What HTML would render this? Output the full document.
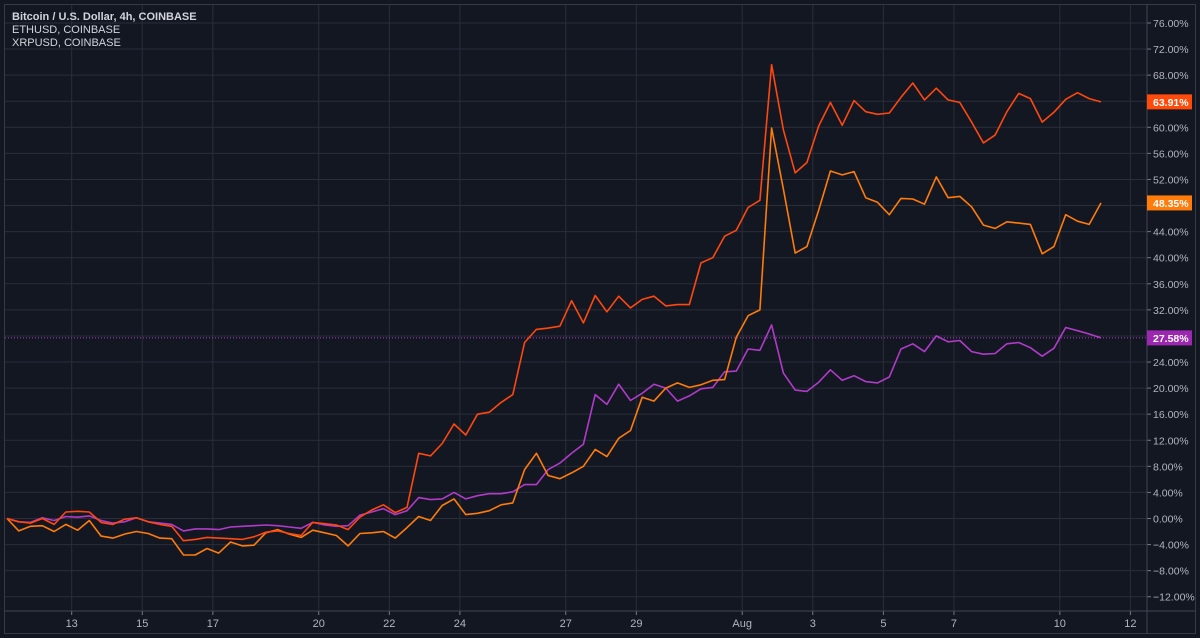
<!DOCTYPE html>
<html><head><meta charset="utf-8">
<style>
html,body{margin:0;padding:0;background:#131722;}
svg{display:block;font-family:"Liberation Sans",sans-serif;}
</style></head>
<body>
<svg id="chart" width="1200" height="638" viewBox="0 0 1200 638" xmlns="http://www.w3.org/2000/svg">
<rect x="0" y="0" width="1200" height="638" fill="#131722"/>
<g id="grid"></g>
<g id="series"></g>
<g id="axes"></g>
<g font-size="11" fill="#d1d4dc">
<text x="12" y="20" font-weight="bold">Bitcoin / U.S. Dollar, 4h, COINBASE</text>
<text x="12" y="33">ETHUSD, COINBASE</text>
<text x="12" y="46">XRPUSD, COINBASE</text>
</g>
</svg>
<script>
const yTicks = [76,72,68,64,60,56,52,48,44,40,36,32,28,24,20,16,12,8,4,0,-4,-8,-12];
const xTickLabels = ["13","15","17","20","22","24","27","29","Aug","3","5","7","10","12"];
const xTickPos = [5.5,11.5,17.5,26.5,32.5,38.5,47.5,53.5,62.5,68.5,74.5,80.5,89.5,95.5];
const seriesRed = [0,-0.5,-0.7,0,-0.9,1.0,1.1,1.0,-0.6,-0.9,-0.1,0.1,-0.5,-0.9,-1.2,-3.4,-3.2,-2.9,-3.0,-3.1,-3.2,-2.8,-2.1,-1.9,-2.3,-2.6,-0.6,-0.8,-1.0,-1.7,0.2,1.3,2.1,0.9,1.7,10,9.6,11.5,14.5,12.8,16,16.3,17.8,19,27,29,29.2,29.5,33.4,30,34.2,31.7,34.1,32.3,33.6,34.1,32.6,32.8,32.8,39.2,40,43.3,44.2,47.7,48.8,69.6,59.6,53,54.6,60.2,63.8,60.3,64.1,62.4,62,62.2,64.6,66.8,64.2,66,64.2,63.8,60.8,57.6,58.8,62.4,65.2,64.4,60.8,62.3,64.3,65.3,64.4,63.9];
const seriesOrange = [0,-1.9,-1.2,-1.1,-2.0,-0.9,-1.8,-0.3,-2.7,-3.0,-2.4,-2.0,-2.3,-3.0,-3.1,-5.6,-5.6,-4.6,-5.3,-3.6,-4.2,-4.1,-2.2,-1.7,-2.4,-2.9,-1.8,-2.2,-2.6,-4.2,-2.3,-2.2,-2.0,-3.0,-1.4,0.3,-0.3,2.0,3.0,0.6,0.8,1.2,2.1,2.4,7.5,10,6.6,6.1,7.0,8,10.6,9.5,12.3,13.5,18.6,18,20,20.8,20.1,20.5,21.2,21.3,27.8,31.1,32,59.9,50.5,40.7,41.7,47.3,53.3,52.7,53.2,49.2,48.5,46.6,49.1,49,48.2,52.4,49.2,49.4,47.8,45,44.5,45.5,45.3,45.1,40.6,41.7,46.6,45.6,45.1,48.4];
const seriesPurple = [0,-0.5,-0.6,0.1,-0.3,0.3,0.2,0.4,-0.3,-0.7,-0.5,0.1,-0.5,-0.7,-0.9,-1.9,-1.6,-1.6,-1.7,-1.3,-1.2,-1.1,-1.0,-1.1,-1.3,-1.5,-0.6,-1.0,-1.2,-1.1,0.5,1.0,1.5,0.6,1.2,3.2,2.9,3.0,4.0,3.0,3.5,3.8,3.8,4.1,5.2,5.2,7.5,8.5,10,11.4,19,17.5,20.6,18.1,19.2,20.6,20,18,18.8,19.9,20.1,22.5,22.6,26,25.8,29.7,22.3,19.7,19.5,20.9,22.8,21.2,21.9,21,20.8,21.7,26,26.8,25.6,28,27.1,27.3,25.6,25.2,25.3,26.8,27,26.2,24.9,26.1,29.3,28.8,28.3,27.7];
const lastValues = ["63.91%","48.35%","27.58%"];

const NS="http://www.w3.org/2000/svg";
const N = seriesRed.length;
const plotL=5, plotR=1147, plotT=5, plotB=611;
function yScale(v){ return 518.5 - v*6.52; }
function xScale(i){ return 7 + i*(1101-7)/(N-1); }

const grid=document.getElementById('grid');
const axes=document.getElementById('axes');
const ser=document.getElementById('series');
function mk(tag,attrs,parent){const e=document.createElementNS(NS,tag);for(const k in attrs)e.setAttribute(k,attrs[k]);parent.appendChild(e);return e;}

yTicks.forEach(t=>{
  const y=yScale(t);
  const l=mk('line',{x1:plotL,x2:plotR,y1:y,y2:y,stroke:'#2a2e39','stroke-width':1},grid);
  
  
  const tk=mk('line',{x1:plotR,x2:plotR+4,y1:y,y2:y,stroke:'#787b86'},axes);
  
  
  const tx=mk('text',{x:1153,y:y+4,'font-size':10.5,fill:'#b2b5be'},axes);
  tx.textContent=(t<0?'\u2212':'')+Math.abs(t).toFixed(2)+'%';
  
  
});
xTickLabels.forEach((lab,k)=>{
  const x=xScale(xTickPos[k]);
  const l=mk('line',{x1:x,x2:x,y1:plotT,y2:plotB,stroke:'#2a2e39','stroke-width':1},grid);
  
  
  const tk=mk('line',{x1:x,x2:x,y1:plotB,y2:plotB+4,stroke:'#787b86'},axes);
  
  
  const tx=mk('text',{x:x,y:627,'font-size':11,fill:'#b2b5be','text-anchor':'middle'},axes);
  tx.textContent=lab;
  
  
});
const fr=mk('rect',{x:4.5,y:4.5,width:1191,height:629,fill:'none',stroke:'#363a45'},axes);


const ya=mk('line',{x1:plotR,x2:plotR,y1:4,y2:634,stroke:'#434651'},axes);


const xa=mk('line',{x1:4,x2:1196,y1:plotB,y2:plotB,stroke:'#434651'},axes);



const lastP=seriesPurple[N-1];
const dl=mk('line',{x1:plotL,x2:plotR,y1:yScale(lastP),y2:yScale(lastP),stroke:'#b03bc8','stroke-dasharray':'1 2','stroke-width':1},ser);



const defs=[[seriesPurple,'#b03bc8','series-xrpusd'],[seriesOrange,'#ff7b0a','series-bitcoin'],[seriesRed,'#ff470f','series-ethusd']];
defs.forEach(([d,c,n])=>{
  const pts=d.map((v,i)=>xScale(i).toFixed(1)+','+yScale(v).toFixed(1)).join(' ');
  const p=mk('polyline',{points:pts,fill:'none',stroke:c,'stroke-width':1.6,'stroke-linejoin':'round'},ser);
  
  
});
const lab=[[seriesRed,'#ff4a0a',lastValues[0]],[seriesOrange,'#ff7b0a',lastValues[1]],[seriesPurple,'#9c27b0',lastValues[2]]];
lab.forEach(([d,c,t])=>{
  const y=yScale(d[N-1]);
  const r=mk('rect',{x:1147,y:y-7.5,width:45,height:15,fill:c},axes);
  
  
  const tx=mk('text',{x:1153,y:y+4,'font-size':10.5,'font-weight':'bold',fill:'#ffffff'},axes);
  tx.textContent=t;
  
  
});
</script>
</body></html>
